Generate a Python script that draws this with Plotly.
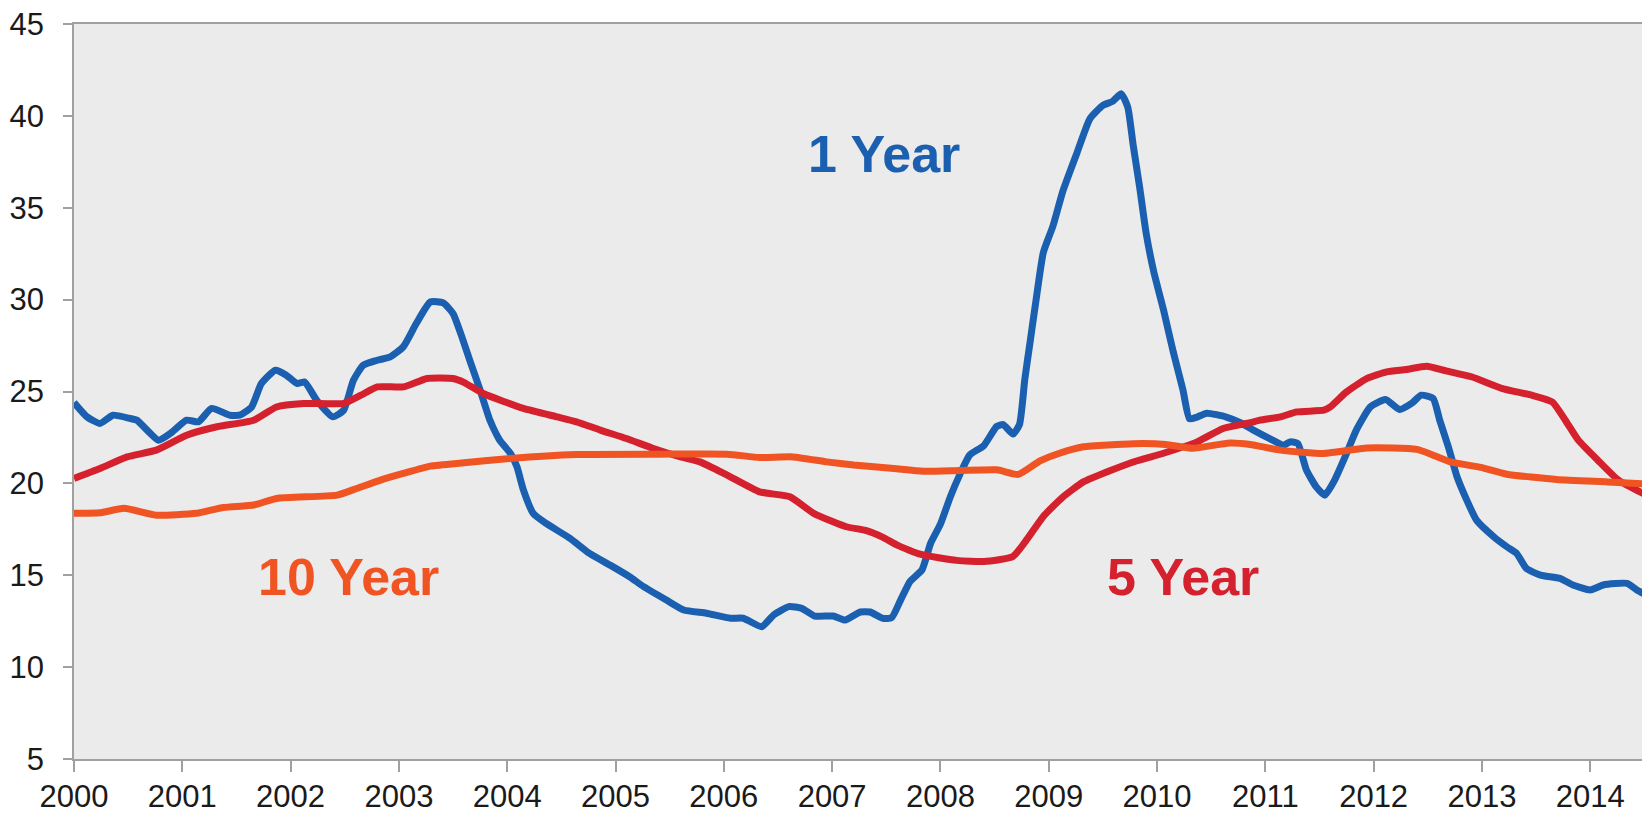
import plotly.graph_objects as go

# ---- data ----
one_year_x = [2000.00, 2000.12, 2000.24, 2000.36, 2000.52, 2000.58, 2000.78, 2000.89, 2001.04, 2001.15,
              2001.27, 2001.44, 2001.53, 2001.64, 2001.73, 2001.86, 2001.96, 2002.06, 2002.13, 2002.24,
              2002.39, 2002.49, 2002.58, 2002.67, 2002.80, 2002.92, 2003.04, 2003.16, 2003.29, 2003.41,
              2003.50, 2003.58, 2003.66, 2003.75, 2003.84, 2003.93, 2004.03, 2004.09, 2004.15, 2004.24,
              2004.36, 2004.58, 2004.76, 2004.95, 2005.13, 2005.26, 2005.47, 2005.63, 2005.84, 2006.06,
              2006.18, 2006.35, 2006.46, 2006.60, 2006.72, 2006.84, 2007.01, 2007.12, 2007.26, 2007.35,
              2007.47, 2007.55, 2007.63, 2007.72, 2007.83, 2007.91, 2008.00, 2008.09, 2008.18, 2008.27,
              2008.40, 2008.52, 2008.58, 2008.67, 2008.73, 2008.78, 2008.83, 2008.89, 2008.95, 2009.04,
              2009.13, 2009.26, 2009.38, 2009.50, 2009.59, 2009.67, 2009.73, 2009.78, 2009.84, 2009.90,
              2009.97, 2010.06, 2010.15, 2010.24, 2010.30, 2010.37, 2010.46, 2010.64, 2010.77, 2010.89,
              2011.04, 2011.17, 2011.23, 2011.30, 2011.38, 2011.47, 2011.55, 2011.64, 2011.75, 2011.84,
              2011.97, 2012.11, 2012.24, 2012.35, 2012.44, 2012.55, 2012.61, 2012.69, 2012.77, 2012.86,
              2012.95, 2013.11, 2013.23, 2013.32, 2013.41, 2013.54, 2013.72, 2013.84, 2014.00, 2014.12,
              2014.34, 2014.43, 2014.55]
one_year_y = [24.40, 23.62, 23.26, 23.71, 23.53, 23.44, 22.35, 22.72, 23.44, 23.35,
              24.08, 23.71, 23.71, 24.16, 25.43, 26.16, 25.89, 25.43, 25.52, 24.53,
              23.62, 23.98, 25.61, 26.43, 26.70, 26.88, 27.43, 28.70, 29.87, 29.82,
              29.24, 28.00, 26.60, 25.07, 23.44, 22.35, 21.63, 20.90, 19.63, 18.37,
              17.82, 17.01, 16.19, 15.55, 14.92, 14.38, 13.65, 13.11, 12.93, 12.66,
              12.66, 12.20, 12.84, 13.29, 13.20, 12.78, 12.78, 12.56, 13.00, 13.00,
              12.65, 12.69, 13.62, 14.67, 15.29, 16.75, 17.78, 19.25, 20.49, 21.54,
              22.05, 23.10, 23.20, 22.68, 23.20, 25.70, 27.78, 30.27, 32.56, 34.02,
              35.89, 37.97, 39.84, 40.57, 40.79, 41.20, 40.47, 38.40, 36.10, 33.60,
              31.52, 29.44, 27.15, 25.07, 23.51, 23.61, 23.82, 23.61, 23.30, 22.90,
              22.44, 22.08, 22.26, 22.17, 20.72, 19.81, 19.36, 20.18, 21.63, 22.90,
              24.16, 24.57, 24.02, 24.35, 24.80, 24.62, 23.44, 21.99, 20.36, 19.09,
              18.00, 17.09, 16.55, 16.19, 15.37, 15.01, 14.83, 14.47, 14.20, 14.47,
              14.56, 14.20, 13.83]

five_year_x = [2000.00, 2000.24, 2000.49, 2000.76, 2001.04, 2001.32, 2001.66, 2001.87, 2002.12, 2002.49,
               2002.65, 2002.80, 2003.04, 2003.26, 2003.50, 2003.60, 2003.78, 2004.15, 2004.46, 2004.64,
               2004.86, 2005.10, 2005.35, 2005.60, 2005.78, 2006.03, 2006.33, 2006.61, 2006.83, 2007.13,
               2007.30, 2007.47, 2007.60, 2007.82, 2008.15, 2008.40, 2008.67, 2008.80, 2008.95, 2009.13,
               2009.32, 2009.57, 2009.81, 2010.06, 2010.37, 2010.61, 2010.86, 2010.95, 2011.14, 2011.29,
               2011.54, 2011.60, 2011.75, 2011.94, 2012.12, 2012.30, 2012.49, 2012.67, 2012.91, 2013.19,
               2013.46, 2013.65, 2013.77, 2013.89, 2014.07, 2014.26, 2014.55]
five_year_y = [20.27, 20.81, 21.44, 21.81, 22.62, 23.08, 23.44, 24.16, 24.35, 24.35,
               24.80, 25.25, 25.25, 25.71, 25.71, 25.50, 24.89, 24.08, 23.62, 23.35,
               22.90, 22.44, 21.90, 21.44, 21.17, 20.45, 19.54, 19.27, 18.37, 17.64,
               17.45, 17.06, 16.64, 16.13, 15.81, 15.75, 16.02, 16.96, 18.20, 19.25,
               20.08, 20.70, 21.22, 21.64, 22.26, 22.99, 23.30, 23.44, 23.62, 23.89,
               23.98, 24.16, 24.98, 25.71, 26.07, 26.20, 26.38, 26.12, 25.79, 25.16,
               24.80, 24.43, 23.44, 22.35, 21.26, 20.18, 19.27]

ten_year_x = [2000.00, 2000.24, 2000.46, 2000.76, 2001.13, 2001.38, 2001.66, 2001.87, 2002.43, 2002.61,
              2002.83, 2003.04, 2003.29, 2003.60, 2004.03, 2004.64, 2005.41, 2006.03, 2006.33, 2006.64,
              2006.95, 2007.20, 2007.57, 2007.84, 2008.18, 2008.52, 2008.72, 2008.92, 2009.10, 2009.32,
              2009.78, 2010.08, 2010.33, 2010.67, 2010.86, 2011.14, 2011.54, 2011.94, 2012.40, 2012.71,
              2012.99, 2013.23, 2013.69, 2014.16, 2014.55]
ten_year_y = [18.37, 18.40, 18.64, 18.27, 18.37, 18.69, 18.82, 19.18, 19.36, 19.72,
              20.18, 20.54, 20.94, 21.12, 21.36, 21.57, 21.59, 21.59, 21.41, 21.44,
              21.17, 21.00, 20.81, 20.66, 20.70, 20.74, 20.49, 21.22, 21.64, 21.99,
              22.16, 22.12, 21.91, 22.20, 22.12, 21.81, 21.63, 21.93, 21.85, 21.17,
              20.87, 20.50, 20.21, 20.08, 19.96]

year_ticks = list(range(2000, 2015))
year_labels = [str(y) for y in year_ticks]

series_names = ["1 Year", "5 Year", "10 Year"]
label_x = [2007.48, 2010.24, 2002.53]
label_y = [37.92, 14.88, 14.88]

BLUE = "#1A5FB0"
RED = "#D5202E"
ORANGE = "#F05423"
colors = [BLUE, RED, ORANGE]
FONT = "Liberation Sans, Arial, sans-serif"

fig = go.Figure()
for name, xs, ys, c in zip(series_names,
                           [one_year_x, five_year_x, ten_year_x],
                           [one_year_y, five_year_y, ten_year_y],
                           colors):
    fig.add_trace(go.Scatter(x=xs, y=ys, mode="lines", name=name,
                             line=dict(color=c, width=7, shape="spline", smoothing=0.5),
                             showlegend=False, hoverinfo="skip"))

for name, lx, ly, c in zip(series_names, label_x, label_y, colors):
    fig.add_annotation(x=lx, y=ly, xref="x", yref="y", text="<b>" + name + "</b>",
                       showarrow=False, xanchor="center", yanchor="middle",
                       font=dict(family=FONT, size=52, color=c))

# The page body keeps its default 8px margin, so the figure is sized to fit
# exactly inside the 1650x815 window (8px on each side).
fig.update_layout(
    width=1634, height=799, autosize=False,
    margin=dict(l=66, r=0, t=15.5, b=48, pad=0, autoexpand=False),
    paper_bgcolor="white",
    plot_bgcolor="#EBEBEB",
    showlegend=False,
    font=dict(family=FONT, color="#1a1a1a"),
    xaxis=dict(range=[2000, 2014.478], tickmode="array", tickvals=year_ticks, ticktext=year_labels,
               showgrid=False, zeroline=False, showline=True, linecolor="#A0A0A0", linewidth=1.5,
               mirror=True, ticks="outside", ticklen=11, tickwidth=1.5, tickcolor="#A0A0A0",
               ticklabelstandoff=-2, ticklabeloverflow="allow", automargin=False,
               tickfont=dict(family=FONT, size=31, color="#1a1a1a")),
    yaxis=dict(range=[5, 45], dtick=5, tick0=5, showgrid=False, zeroline=False, showline=True,
               linecolor="#A0A0A0", linewidth=1.5, ticks="outside", ticklen=9, tickwidth=1.5,
               tickcolor="#A0A0A0", ticklabelstandoff=13, ticklabeloverflow="allow",
               automargin=False,
               tickfont=dict(family=FONT, size=31, color="#1a1a1a")),
)

fig.write_html("out.html")
